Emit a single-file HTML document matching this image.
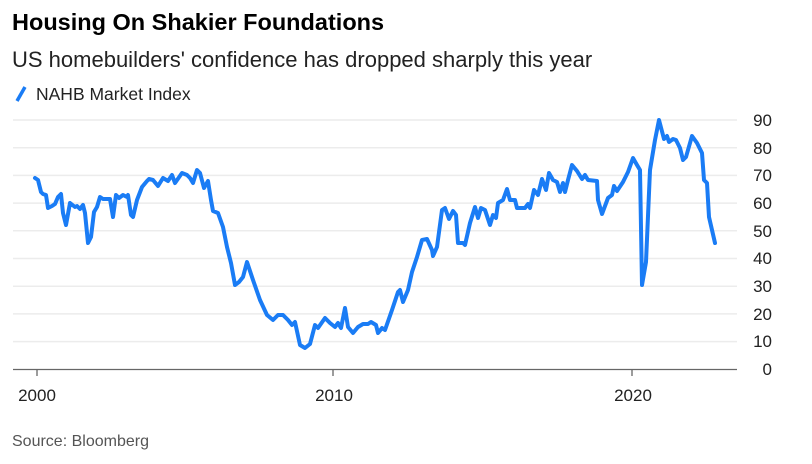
<!DOCTYPE html>
<html><head><meta charset="utf-8"><style>
body{margin:0;background:#fff;width:812px;height:464px;overflow:hidden;font-family:"Liberation Sans",Arial,sans-serif}
svg{position:absolute;left:0;top:0}
</style></head><body>
<svg width="812" height="464" viewBox="0 0 812 464">
<text x="12" y="30" font-size="23.5" font-weight="bold" fill="#000">Housing On Shakier Foundations</text>
<text x="12" y="67" font-size="22" fill="#222">US homebuilders' confidence has dropped sharply this year</text>
<line x1="17" y1="101" x2="25" y2="87" stroke="#1a7cf5" stroke-width="3.5"/>
<text x="36" y="100" font-size="17.5" fill="#222">NAHB Market Index</text>
<g stroke="#ececec" stroke-width="1.5">
<line x1="13" y1="120" x2="737" y2="120"/><line x1="13" y1="147.7" x2="737" y2="147.7"/>
<line x1="13" y1="175.4" x2="737" y2="175.4"/><line x1="13" y1="203.1" x2="737" y2="203.1"/>
<line x1="13" y1="230.8" x2="737" y2="230.8"/><line x1="13" y1="258.5" x2="737" y2="258.5"/>
<line x1="13" y1="286.2" x2="737" y2="286.2"/><line x1="13" y1="313.9" x2="737" y2="313.9"/>
<line x1="13" y1="341.6" x2="737" y2="341.6"/>
</g>
<line x1="13" y1="369.5" x2="737" y2="369.5" stroke="#666" stroke-width="1.3"/>
<g stroke="#666" stroke-width="1.3"><line x1="37" y1="369" x2="37" y2="376"/><line x1="333" y1="369" x2="333" y2="376"/><line x1="632" y1="369" x2="632" y2="376"/></g>
<g font-size="17" fill="#222" text-anchor="middle"><text x="37" y="401">2000</text><text x="334" y="401">2010</text><text x="633" y="401">2020</text></g>
<g font-size="17" fill="#222" text-anchor="end">
<text x="772" y="126">90</text><text x="772" y="154">80</text><text x="772" y="181">70</text><text x="772" y="209">60</text><text x="772" y="237">50</text><text x="772" y="264">40</text><text x="772" y="292">30</text><text x="772" y="320">20</text><text x="772" y="347">10</text><text x="772" y="375">0</text>
</g>
<polyline fill="none" stroke="#1a7cf5" stroke-width="4" stroke-linejoin="round" stroke-linecap="round" points="35,178 38,180 41,192 43,194 46,195 48,208 52,206 55,204 58,197 61,194 63,213 66,225 70,203 75,207 77,206 80,209 83,205 85,213 88,243 91,237 94,212 97,207 100,197 103,199 110,199 113,217 116,195 119,198 123,195 127,197 128,195 131,215 133,217 137,200 142,187 147,181 149,179 153,180 158,186 163,178 168,181 172,175 175,183 182,173 187,175 190,178 193,183 197,170 200,173 204,188 208,181 211,200 213,211 218,213 223,227 227,247 231,263 235,285 239,282 243,277 247,262 253,280 260,300 267,315 273,320 278,315 283,315 288,320 292,325 295,322 300,345 305,348 310,344 315,325 318,328 325,318 330,323 335,327 338,323 341,328 345,308 348,327 353,333 358,327 363,324 368,324 371,322 376,325 378,333 382,328 385,330 392,310 398,292 400,290 403,302 408,290 412,272 417,257 422,240 427,239 432,250 433,256 437,247 442,210 445,208 449,219 453,211 456,215 458,243 463,243 465,245 470,223 475,207 478,218 481,208 485,210 490,225 493,215 496,218 498,203 503,200 507,189 510,200 515,200 517,208 525,208 528,204 530,208 534,190 538,195 542,179 546,190 549,173 553,180 557,182 560,192 563,183 565,192 568,180 572,165 577,171 582,179 585,175 588,180 597,181 598,200 602,214 608,198 612,195 614,186 617,191 623,182 628,172 633,158 637,165 640,170 642,285 646,262 650,170 655,140 659,120 664,139 667,136 669,142 673,139 676,140 680,148 683,160 686,157 692,136 697,143 702,153 704,180 707,183 709,217 715,243"/>
<text x="12" y="446" font-size="16" fill="#555">Source: Bloomberg</text>
</svg>
</body></html>
